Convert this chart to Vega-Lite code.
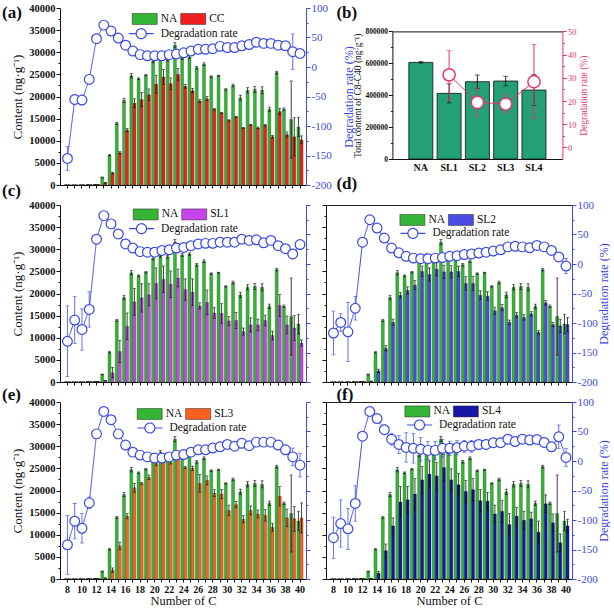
{
"$schema":"https://vega.github.io/schema/vega-lite/v6.json",
"padding":{"left":2,"top":2,"right":0,"bottom":0},
"background":"white",
"columns":2,
"spacing":{"row":20,"column":20},
"bounds":"flush",
"align":"all",
"datasets":{
"a":[
{"C":8,"s":"NA","v":0,"lo":0,"hi":0},{"C":9,"s":"NA","v":0,"lo":0,"hi":0},{"C":10,"s":"NA","v":20,"lo":20,"hi":20},{"C":11,"s":"NA","v":60,"lo":60,"hi":60},{"C":12,"s":"NA","v":120,"lo":100,"hi":140},{"C":13,"s":"NA","v":1700,"lo":1600,"hi":1800},{"C":14,"s":"NA","v":6700,"lo":6550,"hi":6850},{"C":15,"s":"NA","v":13900,"lo":13700,"hi":14100},{"C":16,"s":"NA","v":19100,"lo":18600,"hi":19600},{"C":17,"s":"NA","v":24700,"lo":24200,"hi":25200},{"C":18,"s":"NA","v":24000,"lo":23800,"hi":24200},{"C":19,"s":"NA","v":24800,"lo":24650,"hi":24950},{"C":20,"s":"NA","v":28000,"lo":27600,"hi":28400},{"C":21,"s":"NA","v":28600,"lo":28200,"hi":29000},{"C":22,"s":"NA","v":28300,"lo":28000,"hi":28600},{"C":23,"s":"NA","v":31600,"lo":31000,"hi":32200},{"C":24,"s":"NA","v":28700,"lo":28400,"hi":29000},{"C":25,"s":"NA","v":28900,"lo":28600,"hi":29200},{"C":26,"s":"NA","v":26500,"lo":26200,"hi":26800},{"C":27,"s":"NA","v":27300,"lo":27000,"hi":27600},{"C":28,"s":"NA","v":24500,"lo":24350,"hi":24650},{"C":29,"s":"NA","v":24700,"lo":24600,"hi":24800},{"C":30,"s":"NA","v":21600,"lo":21450,"hi":21750},{"C":31,"s":"NA","v":22500,"lo":22200,"hi":22800},{"C":32,"s":"NA","v":19700,"lo":19100,"hi":20300},{"C":33,"s":"NA","v":21400,"lo":20800,"hi":22000},{"C":34,"s":"NA","v":21600,"lo":20900,"hi":22300},{"C":35,"s":"NA","v":21400,"lo":20600,"hi":22200},{"C":36,"s":"NA","v":17100,"lo":16600,"hi":17600},{"C":37,"s":"NA","v":25400,"lo":25100,"hi":25700},{"C":38,"s":"NA","v":17100,"lo":16800,"hi":17400},{"C":39,"s":"NA","v":14800,"lo":6100,"hi":23500},{"C":40,"s":"NA","v":13100,"lo":10900,"hi":15300},
{"C":8,"s":"CC","v":0,"lo":0,"hi":0},{"C":9,"s":"CC","v":0,"lo":0,"hi":0},{"C":10,"s":"CC","v":10,"lo":10,"hi":10},{"C":11,"s":"CC","v":20,"lo":20,"hi":20},{"C":12,"s":"CC","v":60,"lo":60,"hi":60},{"C":13,"s":"CC","v":500,"lo":400,"hi":600},{"C":14,"s":"CC","v":2700,"lo":2500,"hi":2900},{"C":15,"s":"CC","v":7300,"lo":7000,"hi":7600},{"C":16,"s":"CC","v":12400,"lo":12000,"hi":12800},{"C":17,"s":"CC","v":18500,"lo":17500,"hi":19500},{"C":18,"s":"CC","v":19300,"lo":17700,"hi":20900},{"C":19,"s":"CC","v":20400,"lo":19100,"hi":21700},{"C":20,"s":"CC","v":22800,"lo":20800,"hi":24800},{"C":21,"s":"CC","v":24400,"lo":22700,"hi":26100},{"C":22,"s":"CC","v":22900,"lo":21600,"hi":24200},{"C":23,"s":"CC","v":25000,"lo":23700,"hi":26300},{"C":24,"s":"CC","v":22300,"lo":21900,"hi":22700},{"C":25,"s":"CC","v":21300,"lo":20800,"hi":21800},{"C":26,"s":"CC","v":19000,"lo":18700,"hi":19300},{"C":27,"s":"CC","v":19500,"lo":19000,"hi":20000},{"C":28,"s":"CC","v":17100,"lo":16900,"hi":17300},{"C":29,"s":"CC","v":16300,"lo":16200,"hi":16400},{"C":30,"s":"CC","v":14600,"lo":14450,"hi":14750},{"C":31,"s":"CC","v":15400,"lo":15300,"hi":15500},{"C":32,"s":"CC","v":12900,"lo":12800,"hi":13000},{"C":33,"s":"CC","v":13600,"lo":13500,"hi":13700},{"C":34,"s":"CC","v":12900,"lo":12700,"hi":13100},{"C":35,"s":"CC","v":13500,"lo":13300,"hi":13700},{"C":36,"s":"CC","v":10900,"lo":10600,"hi":11200},{"C":37,"s":"CC","v":16600,"lo":15900,"hi":17300},{"C":38,"s":"CC","v":11400,"lo":10800,"hi":12000},{"C":39,"s":"CC","v":10900,"lo":6600,"hi":15200},{"C":40,"s":"CC","v":10200,"lo":9300,"hi":11100}
],
"c":[
{"C":8,"s":"NA","v":0,"lo":0,"hi":0},{"C":9,"s":"NA","v":0,"lo":0,"hi":0},{"C":10,"s":"NA","v":20,"lo":20,"hi":20},{"C":11,"s":"NA","v":60,"lo":60,"hi":60},{"C":12,"s":"NA","v":120,"lo":100,"hi":140},{"C":13,"s":"NA","v":1700,"lo":1600,"hi":1800},{"C":14,"s":"NA","v":6700,"lo":6550,"hi":6850},{"C":15,"s":"NA","v":13900,"lo":13700,"hi":14100},{"C":16,"s":"NA","v":19100,"lo":18600,"hi":19600},{"C":17,"s":"NA","v":24700,"lo":24200,"hi":25200},{"C":18,"s":"NA","v":24000,"lo":23800,"hi":24200},{"C":19,"s":"NA","v":24800,"lo":24650,"hi":24950},{"C":20,"s":"NA","v":28000,"lo":27600,"hi":28400},{"C":21,"s":"NA","v":28600,"lo":28200,"hi":29000},{"C":22,"s":"NA","v":28300,"lo":28000,"hi":28600},{"C":23,"s":"NA","v":31600,"lo":31000,"hi":32200},{"C":24,"s":"NA","v":28700,"lo":28400,"hi":29000},{"C":25,"s":"NA","v":28900,"lo":28600,"hi":29200},{"C":26,"s":"NA","v":26500,"lo":26200,"hi":26800},{"C":27,"s":"NA","v":27300,"lo":27000,"hi":27600},{"C":28,"s":"NA","v":24500,"lo":24350,"hi":24650},{"C":29,"s":"NA","v":24700,"lo":24600,"hi":24800},{"C":30,"s":"NA","v":21600,"lo":21450,"hi":21750},{"C":31,"s":"NA","v":22500,"lo":22200,"hi":22800},{"C":32,"s":"NA","v":19700,"lo":19100,"hi":20300},{"C":33,"s":"NA","v":21400,"lo":20800,"hi":22000},{"C":34,"s":"NA","v":21600,"lo":20900,"hi":22300},{"C":35,"s":"NA","v":21400,"lo":20600,"hi":22200},{"C":36,"s":"NA","v":17100,"lo":16600,"hi":17600},{"C":37,"s":"NA","v":25400,"lo":25100,"hi":25700},{"C":38,"s":"NA","v":17100,"lo":16800,"hi":17400},{"C":39,"s":"NA","v":14800,"lo":6100,"hi":23500},{"C":40,"s":"NA","v":13100,"lo":10900,"hi":15300},
{"C":8,"s":"SL1","v":0,"lo":0,"hi":0},{"C":9,"s":"SL1","v":0,"lo":0,"hi":0},{"C":10,"s":"SL1","v":0,"lo":0,"hi":0},{"C":11,"s":"SL1","v":30,"lo":30,"hi":30},{"C":12,"s":"SL1","v":100,"lo":100,"hi":100},{"C":13,"s":"SL1","v":300,"lo":200,"hi":400},{"C":14,"s":"SL1","v":2100,"lo":900,"hi":3300},{"C":15,"s":"SL1","v":6900,"lo":4400,"hi":9400},{"C":16,"s":"SL1","v":12600,"lo":9600,"hi":15600},{"C":17,"s":"SL1","v":18100,"lo":15100,"hi":21100},{"C":18,"s":"SL1","v":19000,"lo":15800,"hi":22200},{"C":19,"s":"SL1","v":19700,"lo":17200,"hi":22200},{"C":20,"s":"SL1","v":22300,"lo":18800,"hi":25800},{"C":21,"s":"SL1","v":23200,"lo":20200,"hi":26200},{"C":22,"s":"SL1","v":22100,"lo":19100,"hi":25100},{"C":23,"s":"SL1","v":23500,"lo":21500,"hi":25500},{"C":24,"s":"SL1","v":20900,"lo":18500,"hi":23300},{"C":25,"s":"SL1","v":20300,"lo":17300,"hi":23300},{"C":26,"s":"SL1","v":17200,"lo":16500,"hi":17900},{"C":27,"s":"SL1","v":18000,"lo":15200,"hi":20800},{"C":28,"s":"SL1","v":15600,"lo":14400,"hi":16800},{"C":29,"s":"SL1","v":15500,"lo":13300,"hi":17700},{"C":30,"s":"SL1","v":13800,"lo":12800,"hi":14800},{"C":31,"s":"SL1","v":13900,"lo":12100,"hi":15700},{"C":32,"s":"SL1","v":11400,"lo":10600,"hi":12200},{"C":33,"s":"SL1","v":12900,"lo":11300,"hi":14500},{"C":34,"s":"SL1","v":12900,"lo":11600,"hi":14200},{"C":35,"s":"SL1","v":13900,"lo":12700,"hi":15100},{"C":36,"s":"SL1","v":10500,"lo":9500,"hi":11500},{"C":37,"s":"SL1","v":17300,"lo":14800,"hi":19800},{"C":38,"s":"SL1","v":12900,"lo":10900,"hi":14900},{"C":39,"s":"SL1","v":12200,"lo":9400,"hi":15000},{"C":40,"s":"SL1","v":8800,"lo":8100,"hi":9500}
],
"d":[
{"C":8,"s":"NA","v":0,"lo":0,"hi":0},{"C":9,"s":"NA","v":0,"lo":0,"hi":0},{"C":10,"s":"NA","v":20,"lo":20,"hi":20},{"C":11,"s":"NA","v":60,"lo":60,"hi":60},{"C":12,"s":"NA","v":120,"lo":100,"hi":140},{"C":13,"s":"NA","v":1700,"lo":1600,"hi":1800},{"C":14,"s":"NA","v":6700,"lo":6550,"hi":6850},{"C":15,"s":"NA","v":13900,"lo":13700,"hi":14100},{"C":16,"s":"NA","v":19100,"lo":18600,"hi":19600},{"C":17,"s":"NA","v":24700,"lo":24200,"hi":25200},{"C":18,"s":"NA","v":24000,"lo":23800,"hi":24200},{"C":19,"s":"NA","v":24800,"lo":24650,"hi":24950},{"C":20,"s":"NA","v":28000,"lo":27600,"hi":28400},{"C":21,"s":"NA","v":28600,"lo":28200,"hi":29000},{"C":22,"s":"NA","v":28300,"lo":28000,"hi":28600},{"C":23,"s":"NA","v":31600,"lo":31000,"hi":32200},{"C":24,"s":"NA","v":28700,"lo":28400,"hi":29000},{"C":25,"s":"NA","v":28900,"lo":28600,"hi":29200},{"C":26,"s":"NA","v":26500,"lo":26200,"hi":26800},{"C":27,"s":"NA","v":27300,"lo":27000,"hi":27600},{"C":28,"s":"NA","v":24500,"lo":24350,"hi":24650},{"C":29,"s":"NA","v":24700,"lo":24600,"hi":24800},{"C":30,"s":"NA","v":21600,"lo":21450,"hi":21750},{"C":31,"s":"NA","v":22500,"lo":22200,"hi":22800},{"C":32,"s":"NA","v":19700,"lo":19100,"hi":20300},{"C":33,"s":"NA","v":21400,"lo":20800,"hi":22000},{"C":34,"s":"NA","v":21600,"lo":20900,"hi":22300},{"C":35,"s":"NA","v":21400,"lo":20600,"hi":22200},{"C":36,"s":"NA","v":17100,"lo":16600,"hi":17600},{"C":37,"s":"NA","v":25400,"lo":25100,"hi":25700},{"C":38,"s":"NA","v":17100,"lo":16800,"hi":17400},{"C":39,"s":"NA","v":14800,"lo":6100,"hi":23500},{"C":40,"s":"NA","v":13100,"lo":10900,"hi":15300},
{"C":8,"s":"SL2","v":0,"lo":0,"hi":0},{"C":9,"s":"SL2","v":0,"lo":0,"hi":0},{"C":10,"s":"SL2","v":0,"lo":0,"hi":0},{"C":11,"s":"SL2","v":20,"lo":20,"hi":20},{"C":12,"s":"SL2","v":60,"lo":60,"hi":60},{"C":13,"s":"SL2","v":150,"lo":100,"hi":200},{"C":14,"s":"SL2","v":2500,"lo":2100,"hi":2900},{"C":15,"s":"SL2","v":7600,"lo":7000,"hi":8200},{"C":16,"s":"SL2","v":13500,"lo":12800,"hi":14200},{"C":17,"s":"SL2","v":19600,"lo":19000,"hi":20200},{"C":18,"s":"SL2","v":20700,"lo":19900,"hi":21500},{"C":19,"s":"SL2","v":21900,"lo":20900,"hi":22900},{"C":20,"s":"SL2","v":25000,"lo":23800,"hi":26200},{"C":21,"s":"SL2","v":24300,"lo":22800,"hi":25800},{"C":22,"s":"SL2","v":25500,"lo":24000,"hi":27000},{"C":23,"s":"SL2","v":24900,"lo":23400,"hi":26400},{"C":24,"s":"SL2","v":24900,"lo":23500,"hi":26300},{"C":25,"s":"SL2","v":25000,"lo":23800,"hi":26200},{"C":26,"s":"SL2","v":22300,"lo":20800,"hi":23800},{"C":27,"s":"SL2","v":22300,"lo":20700,"hi":23900},{"C":28,"s":"SL2","v":19600,"lo":18600,"hi":20600},{"C":29,"s":"SL2","v":19400,"lo":18400,"hi":20400},{"C":30,"s":"SL2","v":16100,"lo":15300,"hi":16900},{"C":31,"s":"SL2","v":16800,"lo":16100,"hi":17500},{"C":32,"s":"SL2","v":13500,"lo":13000,"hi":14000},{"C":33,"s":"SL2","v":15100,"lo":14500,"hi":15700},{"C":34,"s":"SL2","v":14600,"lo":14000,"hi":15200},{"C":35,"s":"SL2","v":15400,"lo":14900,"hi":15900},{"C":36,"s":"SL2","v":11200,"lo":10800,"hi":11600},{"C":37,"s":"SL2","v":17900,"lo":17400,"hi":18400},{"C":38,"s":"SL2","v":13000,"lo":12500,"hi":13500},{"C":39,"s":"SL2","v":12700,"lo":11200,"hi":14200},{"C":40,"s":"SL2","v":13000,"lo":11400,"hi":14600}
],
"e":[
{"C":8,"s":"NA","v":0,"lo":0,"hi":0},{"C":9,"s":"NA","v":0,"lo":0,"hi":0},{"C":10,"s":"NA","v":20,"lo":20,"hi":20},{"C":11,"s":"NA","v":60,"lo":60,"hi":60},{"C":12,"s":"NA","v":120,"lo":100,"hi":140},{"C":13,"s":"NA","v":1700,"lo":1600,"hi":1800},{"C":14,"s":"NA","v":6700,"lo":6550,"hi":6850},{"C":15,"s":"NA","v":13900,"lo":13700,"hi":14100},{"C":16,"s":"NA","v":19100,"lo":18600,"hi":19600},{"C":17,"s":"NA","v":24700,"lo":24200,"hi":25200},{"C":18,"s":"NA","v":24000,"lo":23800,"hi":24200},{"C":19,"s":"NA","v":24800,"lo":24650,"hi":24950},{"C":20,"s":"NA","v":28000,"lo":27600,"hi":28400},{"C":21,"s":"NA","v":28600,"lo":28200,"hi":29000},{"C":22,"s":"NA","v":28300,"lo":28000,"hi":28600},{"C":23,"s":"NA","v":31600,"lo":31000,"hi":32200},{"C":24,"s":"NA","v":28700,"lo":28400,"hi":29000},{"C":25,"s":"NA","v":28900,"lo":28600,"hi":29200},{"C":26,"s":"NA","v":26500,"lo":26200,"hi":26800},{"C":27,"s":"NA","v":27300,"lo":27000,"hi":27600},{"C":28,"s":"NA","v":24500,"lo":24350,"hi":24650},{"C":29,"s":"NA","v":24700,"lo":24600,"hi":24800},{"C":30,"s":"NA","v":21600,"lo":21450,"hi":21750},{"C":31,"s":"NA","v":22500,"lo":22200,"hi":22800},{"C":32,"s":"NA","v":19700,"lo":19100,"hi":20300},{"C":33,"s":"NA","v":21400,"lo":20800,"hi":22000},{"C":34,"s":"NA","v":21600,"lo":20900,"hi":22300},{"C":35,"s":"NA","v":21400,"lo":20600,"hi":22200},{"C":36,"s":"NA","v":17100,"lo":16600,"hi":17600},{"C":37,"s":"NA","v":25400,"lo":25100,"hi":25700},{"C":38,"s":"NA","v":17100,"lo":16800,"hi":17400},{"C":39,"s":"NA","v":14800,"lo":6100,"hi":23500},{"C":40,"s":"NA","v":13100,"lo":10900,"hi":15300},
{"C":8,"s":"SL3","v":0,"lo":0,"hi":0},{"C":9,"s":"SL3","v":0,"lo":0,"hi":0},{"C":10,"s":"SL3","v":0,"lo":0,"hi":0},{"C":11,"s":"SL3","v":20,"lo":20,"hi":20},{"C":12,"s":"SL3","v":60,"lo":60,"hi":60},{"C":13,"s":"SL3","v":200,"lo":150,"hi":250},{"C":14,"s":"SL3","v":2000,"lo":1500,"hi":2500},{"C":15,"s":"SL3","v":7500,"lo":6700,"hi":8300},{"C":16,"s":"SL3","v":14200,"lo":13600,"hi":14800},{"C":17,"s":"SL3","v":20600,"lo":19600,"hi":21600},{"C":18,"s":"SL3","v":21600,"lo":21400,"hi":21800},{"C":19,"s":"SL3","v":23000,"lo":22500,"hi":23500},{"C":20,"s":"SL3","v":26100,"lo":25600,"hi":26600},{"C":21,"s":"SL3","v":27000,"lo":26500,"hi":27500},{"C":22,"s":"SL3","v":26400,"lo":26000,"hi":26800},{"C":23,"s":"SL3","v":28200,"lo":27700,"hi":28700},{"C":24,"s":"SL3","v":25200,"lo":25000,"hi":25400},{"C":25,"s":"SL3","v":25000,"lo":24500,"hi":25500},{"C":26,"s":"SL3","v":21600,"lo":19600,"hi":23600},{"C":27,"s":"SL3","v":22300,"lo":21300,"hi":23300},{"C":28,"s":"SL3","v":19400,"lo":18600,"hi":20200},{"C":29,"s":"SL3","v":19200,"lo":18200,"hi":20200},{"C":30,"s":"SL3","v":15500,"lo":14300,"hi":16700},{"C":31,"s":"SL3","v":16800,"lo":16100,"hi":17500},{"C":32,"s":"SL3","v":13500,"lo":12700,"hi":14300},{"C":33,"s":"SL3","v":15500,"lo":14500,"hi":16500},{"C":34,"s":"SL3","v":14700,"lo":13800,"hi":15600},{"C":35,"s":"SL3","v":14400,"lo":13100,"hi":15700},{"C":36,"s":"SL3","v":11700,"lo":10800,"hi":12600},{"C":37,"s":"SL3","v":18700,"lo":16500,"hi":20900},{"C":38,"s":"SL3","v":13800,"lo":11800,"hi":15800},{"C":39,"s":"SL3","v":13600,"lo":10800,"hi":16400},{"C":40,"s":"SL3","v":13800,"lo":10400,"hi":17200}
],
"f":[
{"C":8,"s":"NA","v":0,"lo":0,"hi":0},{"C":9,"s":"NA","v":0,"lo":0,"hi":0},{"C":10,"s":"NA","v":20,"lo":20,"hi":20},{"C":11,"s":"NA","v":60,"lo":60,"hi":60},{"C":12,"s":"NA","v":120,"lo":100,"hi":140},{"C":13,"s":"NA","v":1700,"lo":1600,"hi":1800},{"C":14,"s":"NA","v":6700,"lo":6550,"hi":6850},{"C":15,"s":"NA","v":13900,"lo":13700,"hi":14100},{"C":16,"s":"NA","v":19100,"lo":18600,"hi":19600},{"C":17,"s":"NA","v":24700,"lo":24200,"hi":25200},{"C":18,"s":"NA","v":24000,"lo":23800,"hi":24200},{"C":19,"s":"NA","v":24800,"lo":24650,"hi":24950},{"C":20,"s":"NA","v":28000,"lo":27600,"hi":28400},{"C":21,"s":"NA","v":28600,"lo":28200,"hi":29000},{"C":22,"s":"NA","v":28300,"lo":28000,"hi":28600},{"C":23,"s":"NA","v":31600,"lo":31000,"hi":32200},{"C":24,"s":"NA","v":28700,"lo":28400,"hi":29000},{"C":25,"s":"NA","v":28900,"lo":28600,"hi":29200},{"C":26,"s":"NA","v":26500,"lo":26200,"hi":26800},{"C":27,"s":"NA","v":27300,"lo":27000,"hi":27600},{"C":28,"s":"NA","v":24500,"lo":24350,"hi":24650},{"C":29,"s":"NA","v":24700,"lo":24600,"hi":24800},{"C":30,"s":"NA","v":21600,"lo":21450,"hi":21750},{"C":31,"s":"NA","v":22500,"lo":22200,"hi":22800},{"C":32,"s":"NA","v":19700,"lo":19100,"hi":20300},{"C":33,"s":"NA","v":21400,"lo":20800,"hi":22000},{"C":34,"s":"NA","v":21600,"lo":20900,"hi":22300},{"C":35,"s":"NA","v":21400,"lo":20600,"hi":22200},{"C":36,"s":"NA","v":17100,"lo":16600,"hi":17600},{"C":37,"s":"NA","v":25400,"lo":25100,"hi":25700},{"C":38,"s":"NA","v":17100,"lo":16800,"hi":17400},{"C":39,"s":"NA","v":14800,"lo":6100,"hi":23500},{"C":40,"s":"NA","v":13100,"lo":10900,"hi":15300},
{"C":8,"s":"SL4","v":0,"lo":0,"hi":0},{"C":9,"s":"SL4","v":0,"lo":0,"hi":0},{"C":10,"s":"SL4","v":0,"lo":0,"hi":0},{"C":11,"s":"SL4","v":20,"lo":20,"hi":20},{"C":12,"s":"SL4","v":50,"lo":50,"hi":50},{"C":13,"s":"SL4","v":100,"lo":50,"hi":150},{"C":14,"s":"SL4","v":1300,"lo":900,"hi":1700},{"C":15,"s":"SL4","v":6400,"lo":4900,"hi":7900},{"C":16,"s":"SL4","v":12000,"lo":10200,"hi":13800},{"C":17,"s":"SL4","v":17400,"lo":13900,"hi":20900},{"C":18,"s":"SL4","v":17900,"lo":14900,"hi":20900},{"C":19,"s":"SL4","v":19200,"lo":15700,"hi":22700},{"C":20,"s":"SL4","v":22400,"lo":19400,"hi":25400},{"C":21,"s":"SL4","v":23700,"lo":20700,"hi":26700},{"C":22,"s":"SL4","v":23300,"lo":20300,"hi":26300},{"C":23,"s":"SL4","v":25200,"lo":22200,"hi":28200},{"C":24,"s":"SL4","v":22400,"lo":19900,"hi":24900},{"C":25,"s":"SL4","v":21300,"lo":18800,"hi":23800},{"C":26,"s":"SL4","v":19800,"lo":17300,"hi":22300},{"C":27,"s":"SL4","v":20200,"lo":17700,"hi":22700},{"C":28,"s":"SL4","v":17700,"lo":15200,"hi":20200},{"C":29,"s":"SL4","v":17600,"lo":15600,"hi":19600},{"C":30,"s":"SL4","v":14700,"lo":12700,"hi":16700},{"C":31,"s":"SL4","v":15300,"lo":12800,"hi":17800},{"C":32,"s":"SL4","v":12300,"lo":9800,"hi":14800},{"C":33,"s":"SL4","v":14200,"lo":12200,"hi":16200},{"C":34,"s":"SL4","v":13300,"lo":11300,"hi":15300},{"C":35,"s":"SL4","v":13600,"lo":12100,"hi":15100},{"C":36,"s":"SL4","v":10600,"lo":8100,"hi":13100},{"C":37,"s":"SL4","v":17000,"lo":15000,"hi":19000},{"C":38,"s":"SL4","v":12700,"lo":10700,"hi":14700},{"C":39,"s":"SL4","v":8200,"lo":6200,"hi":10200},{"C":40,"s":"SL4","v":12000,"lo":10500,"hi":13500}
],
"ra":[
{"C":8,"r":-155,"lo":-175,"hi":-135},{"C":9,"r":-55,"lo":-63,"hi":-47},{"C":10,"r":-56,"lo":-64,"hi":-48},{"C":11,"r":-21,"lo":-29,"hi":-13},{"C":12,"r":48,"lo":44,"hi":52},{"C":13,"r":71,"lo":67,"hi":75},{"C":14,"r":61,"lo":57,"hi":65},{"C":15,"r":49,"lo":45,"hi":53},{"C":16,"r":37,"lo":33,"hi":41},{"C":17,"r":27,"lo":24,"hi":30},{"C":18,"r":21,"lo":18,"hi":24},{"C":19,"r":19,"lo":17,"hi":21},{"C":20,"r":19,"lo":17,"hi":21},{"C":21,"r":19,"lo":17,"hi":21},{"C":22,"r":21,"lo":19,"hi":23},{"C":23,"r":22,"lo":19,"hi":25},{"C":24,"r":24,"lo":22,"hi":26},{"C":25,"r":27,"lo":25,"hi":29},{"C":26,"r":30,"lo":28,"hi":32},{"C":27,"r":30,"lo":28,"hi":32},{"C":28,"r":31,"lo":29,"hi":33},{"C":29,"r":35,"lo":33,"hi":37},{"C":30,"r":33,"lo":31,"hi":35},{"C":31,"r":33,"lo":31,"hi":35},{"C":32,"r":36,"lo":34,"hi":38},{"C":33,"r":38,"lo":36,"hi":40},{"C":34,"r":42,"lo":40,"hi":44},{"C":35,"r":40,"lo":38,"hi":42},{"C":36,"r":40,"lo":38,"hi":42},{"C":37,"r":37,"lo":35,"hi":39},{"C":38,"r":36,"lo":34,"hi":38},{"C":39,"r":26,"lo":-4,"hi":56},{"C":40,"r":23,"lo":21,"hi":25}
],
"rc":[
{"C":8,"r":-131,"lo":-191,"hi":-71},{"C":9,"r":-95,"lo":-135,"hi":-55},{"C":10,"r":-111,"lo":-146,"hi":-76},{"C":11,"r":-77,"lo":-107,"hi":-47},{"C":12,"r":42,"lo":34,"hi":50},{"C":13,"r":82,"lo":79,"hi":85},{"C":14,"r":68,"lo":64,"hi":72},{"C":15,"r":51,"lo":47,"hi":55},{"C":16,"r":34,"lo":29,"hi":39},{"C":17,"r":27,"lo":23,"hi":31},{"C":18,"r":21,"lo":16,"hi":26},{"C":19,"r":20,"lo":15,"hi":25},{"C":20,"r":20,"lo":15,"hi":25},{"C":21,"r":23,"lo":18,"hi":28},{"C":22,"r":24,"lo":19,"hi":29},{"C":23,"r":27,"lo":23,"hi":31},{"C":24,"r":28,"lo":24,"hi":32},{"C":25,"r":31,"lo":28,"hi":34},{"C":26,"r":34,"lo":31,"hi":37},{"C":27,"r":35,"lo":32,"hi":38},{"C":28,"r":35,"lo":32,"hi":38},{"C":29,"r":37,"lo":34,"hi":40},{"C":30,"r":37,"lo":34,"hi":40},{"C":31,"r":37,"lo":34,"hi":40},{"C":32,"r":42,"lo":39,"hi":45},{"C":33,"r":40,"lo":37,"hi":43},{"C":34,"r":41,"lo":38,"hi":44},{"C":35,"r":36,"lo":33,"hi":39},{"C":36,"r":40,"lo":37,"hi":43},{"C":37,"r":31,"lo":28,"hi":34},{"C":38,"r":26,"lo":23,"hi":29},{"C":39,"r":17,"lo":9,"hi":25},{"C":40,"r":33,"lo":30,"hi":36}
],
"rd":[
{"C":8,"r":-117,"lo":-154,"hi":-80},{"C":9,"r":-99,"lo":-114,"hi":-84},{"C":10,"r":-115,"lo":-165,"hi":-65},{"C":11,"r":-75,"lo":-95,"hi":-55},{"C":12,"r":37,"lo":32,"hi":42},{"C":13,"r":75,"lo":70,"hi":80},{"C":14,"r":61,"lo":56,"hi":66},{"C":15,"r":44,"lo":40,"hi":48},{"C":16,"r":27,"lo":23,"hi":31},{"C":17,"r":19,"lo":16,"hi":22},{"C":18,"r":13,"lo":10,"hi":16},{"C":19,"r":10,"lo":7,"hi":13},{"C":20,"r":9,"lo":6,"hi":12},{"C":21,"r":9,"lo":6,"hi":12},{"C":22,"r":10,"lo":7,"hi":13},{"C":23,"r":11,"lo":8,"hi":14},{"C":24,"r":13,"lo":10,"hi":16},{"C":25,"r":14,"lo":11,"hi":17},{"C":26,"r":16,"lo":13,"hi":19},{"C":27,"r":17,"lo":14,"hi":20},{"C":28,"r":18.5,"lo":15.5,"hi":21.5},{"C":29,"r":20,"lo":17,"hi":23},{"C":30,"r":22,"lo":19,"hi":25},{"C":31,"r":24,"lo":21,"hi":27},{"C":32,"r":29,"lo":25,"hi":33},{"C":33,"r":30,"lo":26,"hi":34},{"C":34,"r":29,"lo":25,"hi":33},{"C":35,"r":27.5,"lo":23.5,"hi":31.5},{"C":36,"r":31.5,"lo":27.5,"hi":35.5},{"C":37,"r":29,"lo":25,"hi":33},{"C":38,"r":23,"lo":19,"hi":27},{"C":39,"r":12,"lo":8,"hi":16},{"C":40,"r":-3.5,"lo":-16.5,"hi":9.5}
],
"re":[
{"C":8,"r":-142,"lo":-192,"hi":-92},{"C":9,"r":-102,"lo":-132,"hi":-72},{"C":10,"r":-114,"lo":-139,"hi":-89},{"C":11,"r":-71,"lo":-81,"hi":-61},{"C":12,"r":46,"lo":42,"hi":50},{"C":13,"r":84,"lo":80,"hi":88},{"C":14,"r":70,"lo":66,"hi":74},{"C":15,"r":46,"lo":42,"hi":50},{"C":16,"r":27,"lo":23,"hi":31},{"C":17,"r":15,"lo":11,"hi":19},{"C":18,"r":10,"lo":7,"hi":13},{"C":19,"r":7,"lo":4,"hi":10},{"C":20,"r":5,"lo":2,"hi":8},{"C":21,"r":5,"lo":2,"hi":8},{"C":22,"r":7,"lo":4,"hi":10},{"C":23,"r":10,"lo":7,"hi":13},{"C":24,"r":11,"lo":8,"hi":14},{"C":25,"r":15,"lo":12,"hi":18},{"C":26,"r":19,"lo":16,"hi":22},{"C":27,"r":19,"lo":16,"hi":22},{"C":28,"r":22,"lo":19,"hi":25},{"C":29,"r":24,"lo":21,"hi":27},{"C":30,"r":28,"lo":25,"hi":31},{"C":31,"r":25,"lo":22,"hi":28},{"C":32,"r":30,"lo":27,"hi":33},{"C":33,"r":26,"lo":23,"hi":29},{"C":34,"r":32,"lo":29,"hi":35},{"C":35,"r":32,"lo":29,"hi":35},{"C":36,"r":32,"lo":29,"hi":35},{"C":37,"r":27,"lo":24,"hi":30},{"C":38,"r":19,"lo":15,"hi":23},{"C":39,"r":7,"lo":-8,"hi":22},{"C":40,"r":-7,"lo":-27,"hi":13}
],
"rf":[
{"C":8,"r":-130,"lo":-165,"hi":-95},{"C":9,"r":-106,"lo":-146,"hi":-66},{"C":10,"r":-115,"lo":-150,"hi":-80},{"C":11,"r":-72,"lo":-102,"hi":-42},{"C":12,"r":42,"lo":39,"hi":45},{"C":13,"r":84,"lo":80,"hi":88},{"C":14,"r":72,"lo":68,"hi":76},{"C":15,"r":53,"lo":45,"hi":61},{"C":16,"r":37,"lo":27,"hi":47},{"C":17,"r":28,"lo":13,"hi":43},{"C":18,"r":23,"lo":-2,"hi":48},{"C":19,"r":21.5,"lo":-3.5,"hi":46.5},{"C":20,"r":20,"lo":0,"hi":40},{"C":21,"r":18,"lo":3,"hi":33},{"C":22,"r":18,"lo":3,"hi":33},{"C":23,"r":21.5,"lo":6.5,"hi":36.5},{"C":24,"r":21.5,"lo":9.5,"hi":33.5},{"C":25,"r":22.5,"lo":10.5,"hi":34.5},{"C":26,"r":25,"lo":15,"hi":35},{"C":27,"r":25,"lo":15,"hi":35},{"C":28,"r":28,"lo":20,"hi":36},{"C":29,"r":28,"lo":20,"hi":36},{"C":30,"r":31,"lo":23,"hi":39},{"C":31,"r":31,"lo":23,"hi":39},{"C":32,"r":37,"lo":29,"hi":45},{"C":33,"r":33,"lo":25,"hi":41},{"C":34,"r":37,"lo":31,"hi":43},{"C":35,"r":35.5,"lo":30.5,"hi":40.5},{"C":36,"r":36.5,"lo":31.5,"hi":41.5},{"C":37,"r":31.5,"lo":23.5,"hi":39.5},{"C":38,"r":24,"lo":16,"hi":32},{"C":39,"r":41,"lo":21,"hi":61},{"C":40,"r":6,"lo":-9,"hi":21}
],
"tot":[
{"s":"NA","v":605700,"lo":600700,"hi":610700},{"s":"SL1","v":411500,"lo":351500,"hi":471500},{"s":"SL2","v":484600,"lo":442600,"hi":526600},{"s":"SL3","v":488800,"lo":458800,"hi":518800},{"s":"SL4","v":432400,"lo":335400,"hi":529400}
],
"rb":[
{"s":"SL1","r":31.3,"lo":20.4,"hi":41.7},{"s":"SL2","r":19.4,"lo":13.4,"hi":25.6},{"s":"SL3","r":18.7,"lo":14.8,"hi":22.7},{"s":"SL4","r":28.3,"lo":12.6,"hi":44.3}
]
},
"concat":[
{
"title":{"text":"(a)","dx":-58,"dy":24.3},
"width":246,"height":177,
"layer":[
{"data":{"name":"a"},"resolve":{"axis":{"y":"independent"}},"layer":[
{"mark":{"type":"bar","stroke":"#1a1a1a","strokeWidth":0.4,"strokeOpacity":0.6},
"encoding":{
"x":{"field":"C","type":"ordinal","scale":{"paddingInner":0.15,"paddingOuter":0.5,"align":0.6},"axis":{"title":null,"labels":false,"tickSize":3}},
"xOffset":{"field":"s","type":"nominal","scale":{"domain":["NA","CC"],"paddingInner":0,"paddingOuter":0}},
"y":{"field":"v","type":"quantitative","scale":{"domain":[0,40000],"nice":false},"axis":{"orient":"left","title":"Content (ng·g⁻¹)","values":[0,5000,10000,15000,20000,25000,30000,35000,40000],"format":"d","labelFontSize":10.5,"labelFontWeight":"bold","labelPadding":1,"tickSize":4,"titleFontSize":13,"titlePadding":4}},
"color":{"field":"s","type":"nominal","scale":{"domain":["NA","CC"],"range":["#35b535","#f21d1d"]},"legend":{"orient":"none","legendX":71.7,"legendY":-2.3,"direction":"horizontal","title":null,"symbolType":"M-1,-0.44H1V0.44H-1Z","symbolSize":625,"symbolStrokeColor":"#222","symbolStrokeWidth":0.5,"labelFontSize":11.5,"labelOffset":3,"columnPadding":1.5,"padding":0}}}},
{"mark":{"type":"rule","color":"#111","strokeWidth":0.8},"encoding":{"x":{"field":"C","type":"ordinal"},"xOffset":{"field":"s","type":"nominal"},"y":{"field":"lo","type":"quantitative","axis":{"orient":"left","title":null,"labels":false,"domain":false,"values":[2500,7500,12500,17500,22500,27500,32500,37500],"tickSize":2}},"y2":{"field":"hi"}}},
{"mark":{"type":"tick","orient":"horizontal","color":"#111","thickness":0.8,"size":3},"encoding":{"x":{"field":"C","type":"ordinal"},"xOffset":{"field":"s","type":"nominal"},"y":{"field":"lo","type":"quantitative","axis":null}}},
{"mark":{"type":"tick","orient":"horizontal","color":"#111","thickness":0.8,"size":3},"encoding":{"x":{"field":"C","type":"ordinal"},"xOffset":{"field":"s","type":"nominal"},"y":{"field":"hi","type":"quantitative","axis":null}}}
]},
{"data":{"name":"ra"},"resolve":{"axis":{"y":"independent"}},"layer":[
{"mark":{"type":"rule","color":"#3b4ae2","strokeWidth":0.8},"encoding":{"x":{"field":"C","type":"ordinal"},"y":{"field":"lo","type":"quantitative","scale":{"domain":[-200,100],"nice":false},"axis":{"orient":"right","title":"Degradation rate (%)","values":[-200,-150,-100,-50,0,50,100],"labelExpr":"'' + datum.value","labelFontSize":11,"labelPadding":1,"tickSize":4,"domainColor":"#3b4ae2","tickColor":"#3b4ae2","labelColor":"#3b4ae2","titleColor":"#3b4ae2","titleFontSize":12,"titleAngle":270,"titleBaseline":"top","titlePadding":12}},"y2":{"field":"hi"}}},
{"mark":{"type":"tick","orient":"horizontal","color":"#3b4ae2","thickness":0.8,"size":4},"encoding":{"x":{"field":"C","type":"ordinal"},"y":{"field":"lo","type":"quantitative","axis":{"orient":"right","title":null,"labels":false,"domain":false,"values":[-175,-125,-75,-25,25,75],"tickSize":2,"tickColor":"#3b4ae2"}}}},
{"mark":{"type":"tick","orient":"horizontal","color":"#3b4ae2","thickness":0.8,"size":4},"encoding":{"x":{"field":"C","type":"ordinal"},"y":{"field":"hi","type":"quantitative","axis":null}}},
{"mark":{"type":"line","color":"#3b4ae2","strokeWidth":1},"encoding":{"x":{"field":"C","type":"ordinal"},"y":{"field":"r","type":"quantitative","axis":null},"strokeDash":{"datum":"Degradation rate","type":"nominal","scale":{"range":[[1,0]]},"legend":{"orient":"none","legendX":67.7,"legendY":12.2,"title":null,"symbolType":"M-1,0H-0.4M0.4,0H1M-0.4,0A0.4,0.4,0,1,1,0.4,0A0.4,0.4,0,1,1,-0.4,0","symbolSize":625,"symbolStrokeColor":"#3b4ae2","symbolFillColor":"white","symbolStrokeWidth":1.2,"labelFontSize":11.5,"labelOffset":6,"padding":0}}}},
{"mark":{"type":"point","shape":"circle","size":95,"filled":true,"fill":"white","stroke":"#3b4ae2","strokeWidth":1.2,"opacity":1},"encoding":{"x":{"field":"C","type":"ordinal"},"y":{"field":"r","type":"quantitative","axis":null}}}
]}
],
"resolve":{"scale":{"y":"independent"}}
},
{
"title":{"text":"(b)","dx":10.4,"dy":18.45},
"width":246,"height":177,
"layer":[
{"data":{"name":"tot"},"resolve":{"axis":{"y":"independent"}},"layer":[
{"mark":{"type":"bar","fill":"#23a077","stroke":"#111","strokeWidth":0.8},
"encoding":{
"x":{"field":"s","type":"nominal","sort":["NA","SL1","SL2","SL3","SL4"],"scale":{"range":[66.4,236.4],"paddingInner":0.15,"paddingOuter":0.58},"axis":{"orient":"bottom","offset":-26,"title":null,"ticks":false,"labelAngle":0,"labelFontSize":10,"labelFontWeight":"bold","labelPadding":3}},
"y":{"field":"v","type":"quantitative","scale":{"domain":[0,800000],"range":[151,23.4],"nice":false},"axis":{"orient":"left","offset":-66.4,"title":"Total content of C8-C40 (ng·g⁻¹)","values":[0,200000,400000,600000,800000],"format":"d","labelFontSize":7.5,"labelFontWeight":"bold","labelPadding":1,"tickSize":4,"titleFontSize":9.5,"titlePadding":2}}}},
{"mark":{"type":"rule","color":"#111","strokeWidth":0.9},"encoding":{"x":{"field":"s","type":"nominal","sort":["NA","SL1","SL2","SL3","SL4"]},"y":{"field":"lo","type":"quantitative","axis":{"orient":"left","offset":-66.4,"title":null,"labels":false,"domain":false,"values":[100000,300000,500000,700000],"tickSize":2}},"y2":{"field":"hi"}}},
{"mark":{"type":"tick","orient":"horizontal","color":"#111","thickness":0.9,"size":5},"encoding":{"x":{"field":"s","type":"nominal","sort":["NA","SL1","SL2","SL3","SL4"]},"y":{"field":"lo","type":"quantitative","axis":null}}},
{"mark":{"type":"tick","orient":"horizontal","color":"#111","thickness":0.9,"size":5},"encoding":{"x":{"field":"s","type":"nominal","sort":["NA","SL1","SL2","SL3","SL4"]},"y":{"field":"hi","type":"quantitative","axis":null}}}
]},
{"data":{"name":"rb"},"resolve":{"axis":{"y":"independent"}},"layer":[
{"mark":{"type":"rule","color":"#e8336c","strokeWidth":1},"encoding":{"x":{"field":"s","type":"nominal","sort":["NA","SL1","SL2","SL3","SL4"],"axis":{"orient":"top","offset":-23.4,"labels":false,"ticks":false,"title":null,"domainColor":"#111"}},"y":{"field":"lo","type":"quantitative","scale":{"domain":[-5,50],"range":[151,23.4],"nice":false,"zero":false},"axis":{"orient":"right","offset":-9.6,"title":"Degradation rate (%)","values":[0,10,20,30,40,50],"labelExpr":"'' + datum.value","labelFontSize":8.5,"labelPadding":1,"tickSize":4,"domainColor":"#e8336c","tickColor":"#e8336c","labelColor":"#e8336c","titleColor":"#e8336c","titleFontSize":9.5,"titleAngle":270,"titleBaseline":"top","titlePadding":3}},"y2":{"field":"hi"}}},
{"mark":{"type":"tick","orient":"horizontal","color":"#e8336c","thickness":1,"size":5},"encoding":{"x":{"field":"s","type":"nominal","sort":["NA","SL1","SL2","SL3","SL4"]},"y":{"field":"lo","type":"quantitative","axis":{"orient":"right","offset":-9.6,"title":null,"labels":false,"domain":false,"values":[5,15,25,35,45],"tickSize":2,"tickColor":"#e8336c"}}}},
{"mark":{"type":"tick","orient":"horizontal","color":"#e8336c","thickness":1,"size":5},"encoding":{"x":{"field":"s","type":"nominal","sort":["NA","SL1","SL2","SL3","SL4"]},"y":{"field":"hi","type":"quantitative","axis":null}}},
{"mark":{"type":"line","color":"#e8336c","strokeWidth":1},"encoding":{"x":{"field":"s","type":"nominal","sort":["NA","SL1","SL2","SL3","SL4"]},"y":{"field":"r","type":"quantitative","axis":null}}},
{"mark":{"type":"point","shape":"circle","size":150,"filled":true,"fill":"white","stroke":"#e8336c","strokeWidth":1.5,"opacity":1},"encoding":{"x":{"field":"s","type":"nominal","sort":["NA","SL1","SL2","SL3","SL4"]},"y":{"field":"r","type":"quantitative","axis":null}}}
]}
],
"resolve":{"scale":{"y":"independent"},"axis":{"x":"independent"}}
},
{
"title":{"text":"(c)","dx":-58,"dy":3.9},
"width":246,"height":177,
"layer":[
{"data":{"name":"c"},"resolve":{"axis":{"y":"independent"}},"layer":[
{"mark":{"type":"bar","stroke":"#1a1a1a","strokeWidth":0.4,"strokeOpacity":0.6},
"encoding":{
"x":{"field":"C","type":"ordinal","scale":{"paddingInner":0.15,"paddingOuter":0.5,"align":0.6},"axis":{"title":null,"labels":false,"tickSize":3}},
"xOffset":{"field":"s","type":"nominal","scale":{"domain":["NA","SL1"],"paddingInner":0,"paddingOuter":0}},
"y":{"field":"v","type":"quantitative","scale":{"domain":[0,40000],"nice":false},"axis":{"orient":"left","title":"Content (ng·g⁻¹)","values":[0,5000,10000,15000,20000,25000,30000,35000,40000],"format":"d","labelFontSize":10.5,"labelFontWeight":"bold","labelPadding":1,"tickSize":4,"titleFontSize":13,"titlePadding":4}},
"color":{"field":"s","type":"nominal","scale":{"domain":["NA","SL1"],"range":["#35b535","#c845ec"]},"legend":{"orient":"none","legendX":72.7,"legendY":-3.8,"direction":"horizontal","title":null,"symbolType":"M-1,-0.44H1V0.44H-1Z","symbolSize":625,"symbolStrokeColor":"#222","symbolStrokeWidth":0.5,"labelFontSize":11.5,"labelOffset":3,"columnPadding":1.5,"padding":0}}}},
{"mark":{"type":"rule","color":"#111","strokeWidth":0.8},"encoding":{"x":{"field":"C","type":"ordinal"},"xOffset":{"field":"s","type":"nominal"},"y":{"field":"lo","type":"quantitative","axis":{"orient":"left","title":null,"labels":false,"domain":false,"values":[2500,7500,12500,17500,22500,27500,32500,37500],"tickSize":2}},"y2":{"field":"hi"}}},
{"mark":{"type":"tick","orient":"horizontal","color":"#111","thickness":0.8,"size":3},"encoding":{"x":{"field":"C","type":"ordinal"},"xOffset":{"field":"s","type":"nominal"},"y":{"field":"lo","type":"quantitative","axis":null}}},
{"mark":{"type":"tick","orient":"horizontal","color":"#111","thickness":0.8,"size":3},"encoding":{"x":{"field":"C","type":"ordinal"},"xOffset":{"field":"s","type":"nominal"},"y":{"field":"hi","type":"quantitative","axis":null}}}
]},
{"data":{"name":"rc"},"resolve":{"axis":{"y":"independent"}},"layer":[
{"mark":{"type":"rule","color":"#3b4ae2","strokeWidth":0.8},"encoding":{"x":{"field":"C","type":"ordinal"},"y":{"field":"lo","type":"quantitative","scale":{"domain":[-200,100],"nice":false},"axis":{"orient":"right","title":null,"labels":false,"values":[-200,-150,-100,-50,0,50,100],"tickSize":4,"domainColor":"#3b4ae2","tickColor":"#3b4ae2"}},"y2":{"field":"hi"}}},
{"mark":{"type":"tick","orient":"horizontal","color":"#3b4ae2","thickness":0.8,"size":4},"encoding":{"x":{"field":"C","type":"ordinal"},"y":{"field":"lo","type":"quantitative","axis":{"orient":"right","title":null,"labels":false,"domain":false,"values":[-175,-125,-75,-25,25,75],"tickSize":2,"tickColor":"#3b4ae2"}}}},
{"mark":{"type":"tick","orient":"horizontal","color":"#3b4ae2","thickness":0.8,"size":4},"encoding":{"x":{"field":"C","type":"ordinal"},"y":{"field":"hi","type":"quantitative","axis":null}}},
{"mark":{"type":"line","color":"#3b4ae2","strokeWidth":1},"encoding":{"x":{"field":"C","type":"ordinal"},"y":{"field":"r","type":"quantitative","axis":null},"strokeDash":{"datum":"Degradation rate","type":"nominal","scale":{"range":[[1,0]]},"legend":{"orient":"none","legendX":68,"legendY":10.2,"title":null,"symbolType":"M-1,0H-0.4M0.4,0H1M-0.4,0A0.4,0.4,0,1,1,0.4,0A0.4,0.4,0,1,1,-0.4,0","symbolSize":625,"symbolStrokeColor":"#3b4ae2","symbolFillColor":"white","symbolStrokeWidth":1.2,"labelFontSize":11.5,"labelOffset":6,"padding":0}}}},
{"mark":{"type":"point","shape":"circle","size":95,"filled":true,"fill":"white","stroke":"#3b4ae2","strokeWidth":1.2,"opacity":1},"encoding":{"x":{"field":"C","type":"ordinal"},"y":{"field":"r","type":"quantitative","axis":null}}}
]}
],
"resolve":{"scale":{"y":"independent"}}
},
{
"title":{"text":"(d)","dx":10.4,"dy":-2.05},
"width":246,"height":177,
"layer":[
{"data":{"name":"d"},"resolve":{"axis":{"y":"independent"}},"layer":[
{"mark":{"type":"bar","stroke":"#1a1a1a","strokeWidth":0.4,"strokeOpacity":0.6},
"encoding":{
"x":{"field":"C","type":"ordinal","scale":{"paddingInner":0.15,"paddingOuter":0.5,"align":0.6},"axis":{"title":null,"labels":false,"tickSize":3}},
"xOffset":{"field":"s","type":"nominal","scale":{"domain":["NA","SL2"],"paddingInner":0,"paddingOuter":0}},
"y":{"field":"v","type":"quantitative","scale":{"domain":[0,40000],"nice":false},"axis":{"orient":"left","title":null,"labels":false,"values":[0,5000,10000,15000,20000,25000,30000,35000,40000],"tickSize":4}},
"color":{"field":"s","type":"nominal","scale":{"domain":["NA","SL2"],"range":["#35b535","#4b4be6"]},"legend":{"orient":"none","legendX":73.4,"legendY":1.7,"direction":"horizontal","title":null,"symbolType":"M-1,-0.44H1V0.44H-1Z","symbolSize":625,"symbolStrokeColor":"#222","symbolStrokeWidth":0.5,"labelFontSize":11.5,"labelOffset":3,"columnPadding":1.5,"padding":0}}}},
{"mark":{"type":"rule","color":"#111","strokeWidth":0.8},"encoding":{"x":{"field":"C","type":"ordinal"},"xOffset":{"field":"s","type":"nominal"},"y":{"field":"lo","type":"quantitative","axis":{"orient":"left","title":null,"labels":false,"domain":false,"values":[2500,7500,12500,17500,22500,27500,32500,37500],"tickSize":2}},"y2":{"field":"hi"}}},
{"mark":{"type":"tick","orient":"horizontal","color":"#111","thickness":0.8,"size":3},"encoding":{"x":{"field":"C","type":"ordinal"},"xOffset":{"field":"s","type":"nominal"},"y":{"field":"lo","type":"quantitative","axis":null}}},
{"mark":{"type":"tick","orient":"horizontal","color":"#111","thickness":0.8,"size":3},"encoding":{"x":{"field":"C","type":"ordinal"},"xOffset":{"field":"s","type":"nominal"},"y":{"field":"hi","type":"quantitative","axis":null}}}
]},
{"data":{"name":"rd"},"resolve":{"axis":{"y":"independent"}},"layer":[
{"mark":{"type":"rule","color":"#3b4ae2","strokeWidth":0.8},"encoding":{"x":{"field":"C","type":"ordinal","axis":{"orient":"top","labels":false,"ticks":false,"title":null,"domainColor":"#222"}},"y":{"field":"lo","type":"quantitative","scale":{"domain":[-200,100],"nice":false},"axis":{"orient":"right","title":"Degradation rate (%)","values":[-200,-150,-100,-50,0,50,100],"labelExpr":"'' + datum.value","labelFontSize":11,"labelPadding":1,"tickSize":4,"domainColor":"#3b4ae2","tickColor":"#3b4ae2","labelColor":"#3b4ae2","titleColor":"#3b4ae2","titleFontSize":12,"titleAngle":270,"titleBaseline":"top","titlePadding":1}},"y2":{"field":"hi"}}},
{"mark":{"type":"tick","orient":"horizontal","color":"#3b4ae2","thickness":0.8,"size":4},"encoding":{"x":{"field":"C","type":"ordinal"},"y":{"field":"lo","type":"quantitative","axis":{"orient":"right","title":null,"labels":false,"domain":false,"values":[-175,-125,-75,-25,25,75],"tickSize":2,"tickColor":"#3b4ae2"}}}},
{"mark":{"type":"tick","orient":"horizontal","color":"#3b4ae2","thickness":0.8,"size":4},"encoding":{"x":{"field":"C","type":"ordinal"},"y":{"field":"hi","type":"quantitative","axis":null}}},
{"mark":{"type":"line","color":"#3b4ae2","strokeWidth":1},"encoding":{"x":{"field":"C","type":"ordinal"},"y":{"field":"r","type":"quantitative","axis":null},"strokeDash":{"datum":"Degradation rate","type":"nominal","scale":{"range":[[1,0]]},"legend":{"orient":"none","legendX":73.4,"legendY":14.9,"title":null,"symbolType":"M-1,0H-0.4M0.4,0H1M-0.4,0A0.4,0.4,0,1,1,0.4,0A0.4,0.4,0,1,1,-0.4,0","symbolSize":625,"symbolStrokeColor":"#3b4ae2","symbolFillColor":"white","symbolStrokeWidth":1.2,"labelFontSize":11.5,"labelOffset":6,"padding":0}}}},
{"mark":{"type":"point","shape":"circle","size":95,"filled":true,"fill":"white","stroke":"#3b4ae2","strokeWidth":1.2,"opacity":1},"encoding":{"x":{"field":"C","type":"ordinal"},"y":{"field":"r","type":"quantitative","axis":null}}}
]}
],
"resolve":{"scale":{"y":"independent"},"axis":{"x":"independent"}}
},
{
"title":{"text":"(e)","dx":-58,"dy":10.8},
"width":246,"height":177,
"layer":[
{"data":{"name":"e"},"resolve":{"axis":{"y":"independent"}},"layer":[
{"mark":{"type":"bar","stroke":"#1a1a1a","strokeWidth":0.4,"strokeOpacity":0.6},
"encoding":{
"x":{"field":"C","type":"ordinal","scale":{"paddingInner":0.15,"paddingOuter":0.5,"align":0.6},"axis":{"title":"Number of C","labelExpr":"datum.value % 2 === 0 ? '' + datum.value : ''","labelAngle":0,"labelFontSize":10,"labelFontWeight":"bold","labelPadding":2,"labelOverlap":false,"tickSize":3,"titleFontSize":12.5,"titlePadding":0}},
"xOffset":{"field":"s","type":"nominal","scale":{"domain":["NA","SL3"],"paddingInner":0,"paddingOuter":0}},
"y":{"field":"v","type":"quantitative","scale":{"domain":[0,40000],"nice":false},"axis":{"orient":"left","title":"Content (ng·g⁻¹)","values":[0,5000,10000,15000,20000,25000,30000,35000,40000],"format":"d","labelFontSize":10.5,"labelFontWeight":"bold","labelPadding":1,"tickSize":4,"titleFontSize":13,"titlePadding":4}},
"color":{"field":"s","type":"nominal","scale":{"domain":["NA","SL3"],"range":["#35b535","#ff5f1f"]},"legend":{"orient":"none","legendX":76.7,"legendY":-1.3,"direction":"horizontal","title":null,"symbolType":"M-1,-0.44H1V0.44H-1Z","symbolSize":625,"symbolStrokeColor":"#222","symbolStrokeWidth":0.5,"labelFontSize":11.5,"labelOffset":3,"columnPadding":1.5,"padding":0}}}},
{"mark":{"type":"rule","color":"#111","strokeWidth":0.8},"encoding":{"x":{"field":"C","type":"ordinal"},"xOffset":{"field":"s","type":"nominal"},"y":{"field":"lo","type":"quantitative","axis":{"orient":"left","title":null,"labels":false,"domain":false,"values":[2500,7500,12500,17500,22500,27500,32500,37500],"tickSize":2}},"y2":{"field":"hi"}}},
{"mark":{"type":"tick","orient":"horizontal","color":"#111","thickness":0.8,"size":3},"encoding":{"x":{"field":"C","type":"ordinal"},"xOffset":{"field":"s","type":"nominal"},"y":{"field":"lo","type":"quantitative","axis":null}}},
{"mark":{"type":"tick","orient":"horizontal","color":"#111","thickness":0.8,"size":3},"encoding":{"x":{"field":"C","type":"ordinal"},"xOffset":{"field":"s","type":"nominal"},"y":{"field":"hi","type":"quantitative","axis":null}}}
]},
{"data":{"name":"re"},"resolve":{"axis":{"y":"independent"}},"layer":[
{"mark":{"type":"rule","color":"#3b4ae2","strokeWidth":0.8},"encoding":{"x":{"field":"C","type":"ordinal"},"y":{"field":"lo","type":"quantitative","scale":{"domain":[-200,100],"nice":false},"axis":{"orient":"right","title":null,"labels":false,"values":[-200,-150,-100,-50,0,50,100],"tickSize":4,"domainColor":"#3b4ae2","tickColor":"#3b4ae2"}},"y2":{"field":"hi"}}},
{"mark":{"type":"tick","orient":"horizontal","color":"#3b4ae2","thickness":0.8,"size":4},"encoding":{"x":{"field":"C","type":"ordinal"},"y":{"field":"lo","type":"quantitative","axis":{"orient":"right","title":null,"labels":false,"domain":false,"values":[-175,-125,-75,-25,25,75],"tickSize":2,"tickColor":"#3b4ae2"}}}},
{"mark":{"type":"tick","orient":"horizontal","color":"#3b4ae2","thickness":0.8,"size":4},"encoding":{"x":{"field":"C","type":"ordinal"},"y":{"field":"hi","type":"quantitative","axis":null}}},
{"mark":{"type":"line","color":"#3b4ae2","strokeWidth":1},"encoding":{"x":{"field":"C","type":"ordinal"},"y":{"field":"r","type":"quantitative","axis":null},"strokeDash":{"datum":"Degradation rate","type":"nominal","scale":{"range":[[1,0]]},"legend":{"orient":"none","legendX":76.4,"legendY":12.5,"title":null,"symbolType":"M-1,0H-0.4M0.4,0H1M-0.4,0A0.4,0.4,0,1,1,0.4,0A0.4,0.4,0,1,1,-0.4,0","symbolSize":625,"symbolStrokeColor":"#3b4ae2","symbolFillColor":"white","symbolStrokeWidth":1.2,"labelFontSize":11.5,"labelOffset":6,"padding":0}}}},
{"mark":{"type":"point","shape":"circle","size":95,"filled":true,"fill":"white","stroke":"#3b4ae2","strokeWidth":1.2,"opacity":1},"encoding":{"x":{"field":"C","type":"ordinal"},"y":{"field":"r","type":"quantitative","axis":null}}}
]}
],
"resolve":{"scale":{"y":"independent"}}
},
{
"title":{"text":"(f)","dx":10.4,"dy":12.2},
"width":246,"height":177,
"layer":[
{"data":{"name":"f"},"resolve":{"axis":{"y":"independent"}},"layer":[
{"mark":{"type":"bar","stroke":"#1a1a1a","strokeWidth":0.4,"strokeOpacity":0.6},
"encoding":{
"x":{"field":"C","type":"ordinal","scale":{"paddingInner":0.15,"paddingOuter":0.5,"align":0.6},"axis":{"title":"Number of C","labelExpr":"datum.value % 2 === 0 ? '' + datum.value : ''","labelAngle":0,"labelFontSize":10,"labelFontWeight":"bold","labelPadding":2,"labelOverlap":false,"tickSize":3,"titleFontSize":12.5,"titlePadding":0}},
"xOffset":{"field":"s","type":"nominal","scale":{"domain":["NA","SL4"],"paddingInner":0,"paddingOuter":0}},
"y":{"field":"v","type":"quantitative","scale":{"domain":[0,40000],"nice":false},"axis":{"orient":"left","title":null,"labels":false,"values":[0,5000,10000,15000,20000,25000,30000,35000,40000],"tickSize":4}},
"color":{"field":"s","type":"nominal","scale":{"domain":["NA","SL4"],"range":["#35b535","#1717a6"]},"legend":{"orient":"none","legendX":78.4,"legendY":-3.8,"direction":"horizontal","title":null,"symbolType":"M-1,-0.44H1V0.44H-1Z","symbolSize":625,"symbolStrokeColor":"#222","symbolStrokeWidth":0.5,"labelFontSize":11.5,"labelOffset":3,"columnPadding":1.5,"padding":0}}}},
{"mark":{"type":"rule","color":"#111","strokeWidth":0.8},"encoding":{"x":{"field":"C","type":"ordinal"},"xOffset":{"field":"s","type":"nominal"},"y":{"field":"lo","type":"quantitative","axis":{"orient":"left","title":null,"labels":false,"domain":false,"values":[2500,7500,12500,17500,22500,27500,32500,37500],"tickSize":2}},"y2":{"field":"hi"}}},
{"mark":{"type":"tick","orient":"horizontal","color":"#111","thickness":0.8,"size":3},"encoding":{"x":{"field":"C","type":"ordinal"},"xOffset":{"field":"s","type":"nominal"},"y":{"field":"lo","type":"quantitative","axis":null}}},
{"mark":{"type":"tick","orient":"horizontal","color":"#111","thickness":0.8,"size":3},"encoding":{"x":{"field":"C","type":"ordinal"},"xOffset":{"field":"s","type":"nominal"},"y":{"field":"hi","type":"quantitative","axis":null}}}
]},
{"data":{"name":"rf"},"resolve":{"axis":{"y":"independent"}},"layer":[
{"mark":{"type":"rule","color":"#3b4ae2","strokeWidth":0.8},"encoding":{"x":{"field":"C","type":"ordinal","axis":{"orient":"top","labels":false,"ticks":false,"title":null,"domainColor":"#222"}},"y":{"field":"lo","type":"quantitative","scale":{"domain":[-200,100],"nice":false},"axis":{"orient":"right","title":"Degradation rate (%)","values":[-200,-150,-100,-50,0,50,100],"labelExpr":"'' + datum.value","labelFontSize":11,"labelPadding":1,"tickSize":4,"domainColor":"#3b4ae2","tickColor":"#3b4ae2","labelColor":"#3b4ae2","titleColor":"#3b4ae2","titleFontSize":12,"titleAngle":270,"titleBaseline":"top","titlePadding":1}},"y2":{"field":"hi"}}},
{"mark":{"type":"tick","orient":"horizontal","color":"#3b4ae2","thickness":0.8,"size":4},"encoding":{"x":{"field":"C","type":"ordinal"},"y":{"field":"lo","type":"quantitative","axis":{"orient":"right","title":null,"labels":false,"domain":false,"values":[-175,-125,-75,-25,25,75],"tickSize":2,"tickColor":"#3b4ae2"}}}},
{"mark":{"type":"tick","orient":"horizontal","color":"#3b4ae2","thickness":0.8,"size":4},"encoding":{"x":{"field":"C","type":"ordinal"},"y":{"field":"hi","type":"quantitative","axis":null}}},
{"mark":{"type":"line","color":"#3b4ae2","strokeWidth":1},"encoding":{"x":{"field":"C","type":"ordinal"},"y":{"field":"r","type":"quantitative","axis":null},"strokeDash":{"datum":"Degradation rate","type":"nominal","scale":{"range":[[1,0]]},"legend":{"orient":"none","legendX":80,"legendY":9.5,"title":null,"symbolType":"M-1,0H-0.4M0.4,0H1M-0.4,0A0.4,0.4,0,1,1,0.4,0A0.4,0.4,0,1,1,-0.4,0","symbolSize":625,"symbolStrokeColor":"#3b4ae2","symbolFillColor":"white","symbolStrokeWidth":1.2,"labelFontSize":11.5,"labelOffset":6,"padding":0}}}},
{"mark":{"type":"point","shape":"circle","size":95,"filled":true,"fill":"white","stroke":"#3b4ae2","strokeWidth":1.2,"opacity":1},"encoding":{"x":{"field":"C","type":"ordinal"},"y":{"field":"r","type":"quantitative","axis":null}}}
]}
],
"resolve":{"scale":{"y":"independent"},"axis":{"x":"independent"}}
}
],
"resolve":{"scale":{"color":"independent","strokeDash":"independent","xOffset":"independent","x":"independent","y":"independent"},"legend":{"color":"independent","strokeDash":"independent"}},
"config":{
"font":"Liberation Serif",
"view":{"stroke":null},
"axis":{"grid":false,"labelFont":"Liberation Serif","titleFont":"Liberation Serif","titleFontWeight":"normal","domainColor":"#111","tickColor":"#111","labelColor":"#111","titleColor":"#111","domainWidth":1,"tickWidth":1},
"legend":{"labelFont":"Liberation Serif","labelColor":"#111","padding":0},
"title":{"font":"Liberation Serif","fontSize":17,"fontWeight":"bold","anchor":"start","frame":"group","offset":0,"baseline":"alphabetic","color":"#111"}
}
}
